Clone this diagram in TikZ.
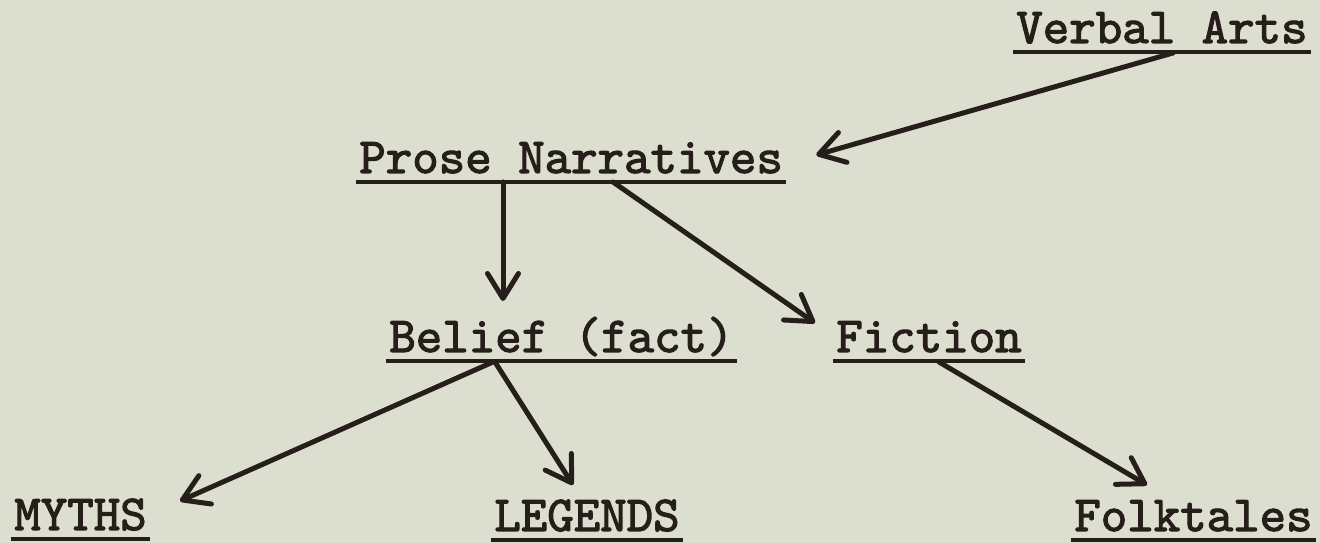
\documentclass[tikz,border=0pt]{standalone}
\usepackage{fontspec}
\usepackage{tikz}
\usetikzlibrary{arrows.meta,calc,positioning}
\newfontfamily\typewriter{lmmono10-regular.otf}[FakeBold=2.2]
\definecolor{paper}{RGB}{220,223,207}
\definecolor{ink}{RGB}{38,30,26}

\begin{document}
\begin{tikzpicture}[x=0.02cm, y=-0.02cm,
    uline/.style={draw=ink, line width=0.09cm},
    term/.style={font=\typewriter\bfseries\fontsize{28.7}{28.7}\selectfont, text=ink,
        inner xsep=0.06cm, inner ysep=0pt, anchor=base west,
        append after command={\pgfextra{\let\thisnode=\tikzlastnode}
            ([yshift=-0.18cm]\thisnode.base west) edge[uline] ([yshift=-0.18cm]\thisnode.base east)}},
    arr/.style={draw=ink, line width=0.1cm, line cap=round,
        -{Straight Barb[length=0.5cm, width=0.62cm, round]}}]
        % Page
        \useasboundingbox (0,0) rectangle (1320,543);
        \fill[paper] (0,0) rectangle (1320,543);
        % Terms
        \node[term] (verbal) at (1013,43) {Verbal Arts};
        \node[term] (prose) at (356,173) {Prose Narratives};
        \node[term] (belief) at (386,352) {Belief (fact)};
        \node[term] (fiction) at (833,352) {Fiction};
        \node[term] (myths) at (11,530) {MYTHS};
        \node[term] (legends) at (491,531) {LEGENDS};
        \node[term] (folktales) at (1071,531) {Folktales};
        % Arrows
        \draw[arr] ($(verbal.base west)+(160,10)$) -- ($(prose.base east)+(30,-18)$);
        \draw[arr] ($(prose.base west)+(147,9)$) -- ($(belief.base west)+(117,-51)$);
        \draw[arr] ($(prose.base west)+(257,9)$) -- ($(fiction.base west)+(-18,-29)$);
        \draw[arr] ($(belief.base west)+(107,10)$) -- ($(myths.base west)+(169,-29)$);
        \draw[arr] ($(belief.base west)+(109,10)$) -- ($(legends.base west)+(82,-46)$);
        \draw[arr] ($(fiction.base west)+(106,10)$) -- ($(folktales.base west)+(76,-46)$);
\end{tikzpicture}
\end{document}
